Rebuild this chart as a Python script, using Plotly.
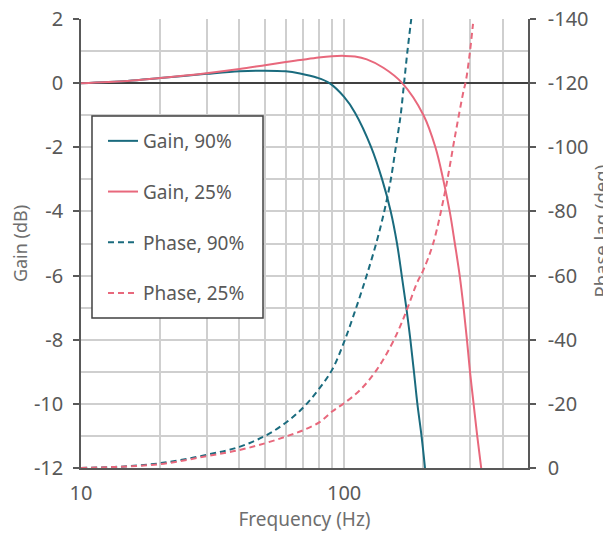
import math
import plotly.graph_objects as go

# ---- data ----
freq_gain90 = [10, 15, 20, 30, 40, 50, 60, 68, 79, 88, 100, 110, 126.8, 139.5, 150.4, 158.9, 165.6, 172.4, 178.6, 184.3, 189.9, 196.9, 203]
gain90_db = [0, 0.07, 0.16, 0.29, 0.37, 0.39, 0.37, 0.30, 0.17, 0.0, -0.43, -0.92, -2.0, -3.0, -4.0, -5.0, -6.0, -7.0, -8.0, -9.0, -10.0, -11.0, -12.0]

freq_gain25 = [10, 15, 20, 30, 40, 50, 60, 68, 80, 90, 100, 110, 122, 141, 166.4, 200.4, 222.4, 238, 252, 263.6, 275, 284.5, 293, 301, 310.6, 320.6, 332]
gain25_db = [0, 0.07, 0.16, 0.31, 0.44, 0.56, 0.66, 0.72, 0.80, 0.84, 0.85, 0.83, 0.74, 0.48, 0.0, -1.0, -2.0, -3.0, -4.0, -5.0, -6.0, -7.0, -8.0, -9.0, -10.0, -11.0, -12.0]

freq_phase90 = [10, 14, 20, 30, 40, 50, 60, 70, 80, 90, 100, 112, 122, 133, 142, 150, 157, 164, 169, 174, 180]
phase90_deg = [0, -0.4, -1.5, -4.1, -6.6, -10, -14.1, -18.9, -24.5, -30.6, -39.3, -50.8, -60.2, -70.6, -79.9, -89.3, -99.7, -110, -120, -129.8, -140]

freq_phase25 = [10, 20, 30, 40, 50, 60, 70, 81, 90, 100, 115, 133, 150, 163, 175, 189, 200, 218, 242, 264, 284, 290, 299, 309]
phase25_deg = [0, -1.2, -3.7, -5.6, -7.7, -9.8, -11.8, -14.4, -17.6, -20.2, -24.3, -30.6, -37.8, -44, -50.3, -57.6, -61.7, -70, -86.2, -103.5, -117.3, -120.5, -128, -138.5]

series_names = ["Gain, 90%", "Gain, 25%", "Phase, 90%", "Phase, 25%"]

x_tick_vals = [10, 100]
x_tick_text = ["10", "100"]
x_minor_grid = [20, 30, 40, 50, 60, 70, 80, 90, 200, 300, 400]
x_range_hz = [10, 500]

gain_tick_vals = [2, 0, -2, -4, -6, -8, -10, -12]
gain_tick_text = ["2", "0", "-2", "-4", "-6", "-8", "-10", "-12"]
gain_minor_grid = [1, -1, -3, -5, -7, -9, -11]
gain_range = [-12, 2]

phase_tick_vals = [-140, -120, -100, -80, -60, -40, -20, 0]
phase_tick_text = ["-140", "-120", "-100", "-80", "-60", "-40", "-20", "0"]
phase_range = [0, -140]

x_title = "Frequency (Hz)"
y_title = "Gain (dB)"
y2_title = "Phase lag (deg)"

# ---- styles ----
TEAL = "#1a6b7e"
PINK = "#e8687c"
GRID = "#cfcfcf"
AXIS = "#595959"
TXT = "#595959"
TITLE = "#6e6e6e"
FONT = "Noto Sans"

fig = go.Figure()
fig.add_trace(go.Scatter(x=freq_gain90, y=gain90_db, name=series_names[0], mode="lines",
                         line=dict(color=TEAL, width=2, shape="spline"), legendgroup="g1"))
fig.add_trace(go.Scatter(x=freq_gain25, y=gain25_db, name=series_names[1], mode="lines",
                         line=dict(color=PINK, width=2, shape="spline"), legendgroup="g2"))
fig.add_trace(go.Scatter(x=freq_phase90, y=phase90_deg, name=series_names[2], mode="lines", yaxis="y2",
                         line=dict(color=TEAL, width=2, shape="spline", dash="6px,4px"), legendgroup="g3"))
fig.add_trace(go.Scatter(x=freq_phase25, y=phase25_deg, name=series_names[3], mode="lines", yaxis="y2",
                         line=dict(color=PINK, width=2, shape="spline", dash="6px,4px"), legendgroup="g4"))

# legend frame (white box with dark border, drawn over the grid)
fig.add_shape(type="rect", xref="paper", yref="paper",
              x0=0.0246, x1=0.4072, y0=0.3341, y1=0.7840,
              fillcolor="white", line=dict(color="#404040", width=1.5), layer="above")

# right axis title (placed as annotation to match the reference's vertical offset)
fig.add_annotation(text=y2_title, xref="paper", yref="paper", x=1.1611, y=0.5267,
                   xanchor="center", yanchor="middle", textangle=-90, showarrow=False,
                   font=dict(family=FONT, size=18.5, color=TITLE))

fig.update_layout(
    template="none",
    width=611, height=533, autosize=False,
    margin=dict(l=73, r=91, t=11, b=73),
    paper_bgcolor="white", plot_bgcolor="white",
    font=dict(family=FONT, color=TXT, size=19),
    showlegend=True,
    legend=dict(x=0.0492, y=0.7706, xanchor="left", yanchor="top",
                bgcolor="rgba(0,0,0,0)", borderwidth=0,
                font=dict(family=FONT, size=19, color=TXT),
                traceorder="grouped", tracegroupgap=23, itemwidth=30),
    xaxis=dict(type="log", range=[math.log10(x_range_hz[0]), math.log10(x_range_hz[1])],
               automargin=False,
               tickmode="array", tickvals=x_tick_vals, ticktext=x_tick_text,
               showgrid=True, gridcolor=GRID, gridwidth=1.5,
               minor=dict(tickmode="array", tickvals=x_minor_grid, showgrid=True,
                          gridcolor=GRID, gridwidth=1.5, ticks=""),
               showline=True, linecolor=AXIS, linewidth=1.5, ticks="",
               zeroline=False, ticklabelstandoff=6, ticklabeloverflow="allow",
               tickfont=dict(size=20, color=TXT),
               title=dict(text=x_title, font=dict(size=19, color=TITLE), standoff=6)),
    yaxis=dict(range=gain_range, automargin=False,
               tickmode="array", tickvals=gain_tick_vals, ticktext=gain_tick_text,
               showgrid=True, gridcolor=GRID, gridwidth=1.5,
               minor=dict(tickmode="array", tickvals=gain_minor_grid, showgrid=True,
                          gridcolor=GRID, gridwidth=1.5, ticks=""),
               zeroline=True, zerolinecolor="#404040", zerolinewidth=1.5,
               showline=True, linecolor=AXIS, linewidth=1.5,
               ticks="outside", ticklen=6, tickcolor=AXIS, tickwidth=1.5,
               ticklabelstandoff=6, ticklabeloverflow="allow",
               tickfont=dict(size=20, color=TXT),
               title=dict(text=y_title, font=dict(size=18, color=TITLE), standoff=3)),
    yaxis2=dict(overlaying="y", side="right", range=phase_range, automargin=False,
                tickmode="array", tickvals=phase_tick_vals, ticktext=phase_tick_text,
                showgrid=False, zeroline=False,
                showline=True, linecolor=AXIS, linewidth=1.5,
                ticks="outside", ticklen=6, tickcolor=AXIS, tickwidth=1.5,
                ticklabelstandoff=8, ticklabeloverflow="allow",
                tickfont=dict(size=20, color=TXT)),
)

fig.write_html("out.html")
